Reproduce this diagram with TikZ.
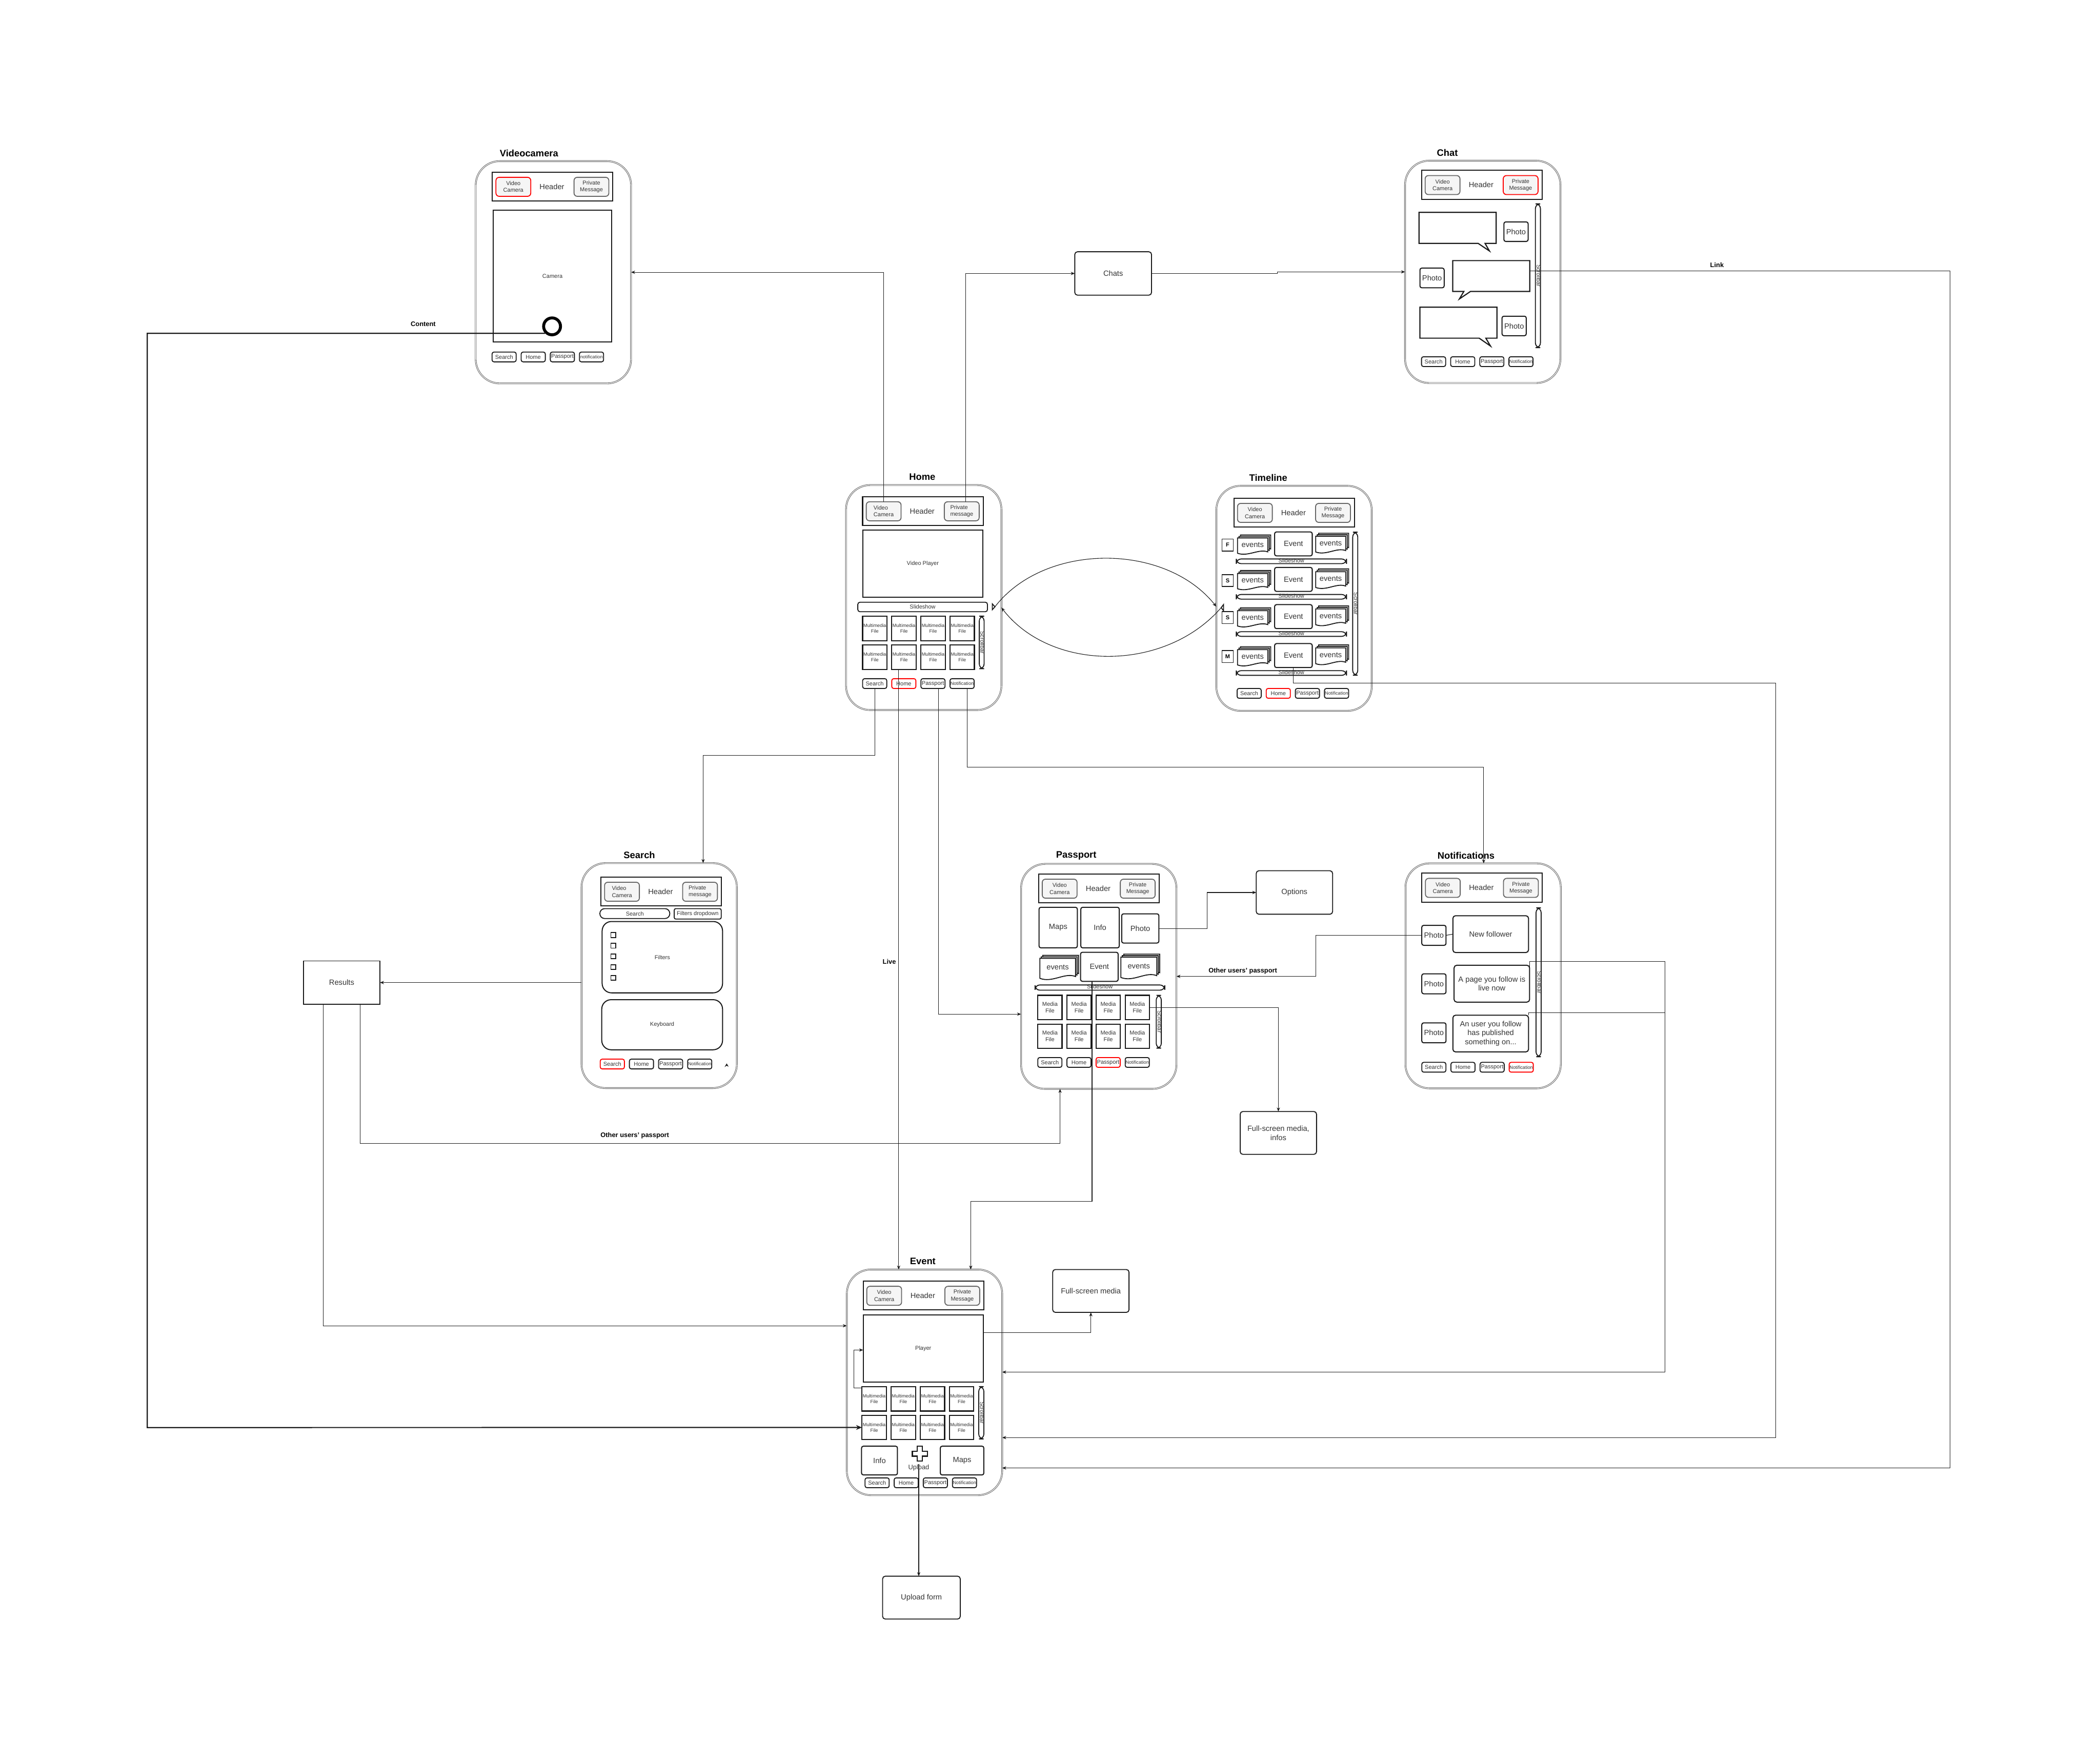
\documentclass[tikz,border=0pt]{standalone}
\usepackage{fontspec}
\setmainfont{Liberation Sans}
\usetikzlibrary{arrows.meta,calc}
\definecolor{cInk}{HTML}{1A1A1A}
\definecolor{cTxt}{HTML}{333333}
\definecolor{cBtn}{HTML}{F5F5F5}
\definecolor{cBtnLn}{HTML}{666666}
\definecolor{cFrame}{HTML}{555555}
\definecolor{cAct}{HTML}{FF0000}
\newcommand{\nfs}{\fontsize{2.5}{3}\selectfont}
\tikzset{
  phone/.style={draw=cFrame, double=white, double distance=0.35pt, line width=0.25pt, rounded corners=4.5mm, fill=white, minimum width=29mm, inner sep=0, outer sep=0},
  ttl/.style={font=\bfseries\fontsize{5}{6}\selectfont, text=black, inner sep=0},
  hdbox/.style={draw=cInk, line width=0.6pt, inner sep=0, outer sep=0},
  hdtxt/.style={text=cTxt, font=\fontsize{4}{4.8}\selectfont, inner sep=0},
  btn/.style={draw=cBtnLn, fill=cBtn, line width=0.5pt, rounded corners=0.6mm, inner sep=0, outer sep=0, text=cTxt, align=center, font=\fontsize{3}{3.6}\selectfont},
  btnred/.style={btn, draw=cAct},
  btnl/.style={btn, align=left},
  nav/.style={draw=#1, fill=white, line width=0.5pt, rounded corners=0.35mm, inner sep=0, outer sep=0, text=cTxt, font=\fontsize{3}{3.6}\selectfont},
}
\tikzset{
  scr/.style={draw=cInk, line width=0.55pt, fill=white, inner sep=0, outer sep=0, text=cTxt, font=\fontsize{3}{3.6}\selectfont},
  cell/.style={draw=cInk, line width=0.6pt, fill=white, inner sep=0, outer sep=0, align=center, text=cTxt},
  cellmm/.style={cell, font=\fontsize{2.5}{3.1}\selectfont},
  cellmd/.style={cell, font=\fontsize{3}{3.6}\selectfont},
  tile/.style={draw=cInk, line width=0.55pt, fill=white, rounded corners=0.35mm, inner sep=0, outer sep=0, align=center, text=cTxt, font=\fontsize{4}{4.8}\selectfont},
  sbar/.style={draw=cInk, line width=0.5pt, fill=white, rounded corners=0.9mm, inner sep=0, outer sep=0},
  sbtxt/.style={rotate=-90, text=cTxt, inner sep=0, font=\fontsize{3}{3.6}\selectfont},
  pill/.style={draw=cInk, line width=0.5pt, fill=white, rounded corners=0.9mm, inner sep=0, outer sep=0, text=cTxt, font=\fontsize{3}{3.6}\selectfont},
  sstxt/.style={text=cTxt, inner sep=0, font=\fontsize{3}{3.6}\selectfont},
  docln/.style={draw=cInk, line width=0.5pt, fill=white},
  evt/.style={text=cTxt, inner sep=0, font=\fontsize{4}{4.8}\selectfont},
  daybox/.style={draw=cInk, line width=0.45pt, fill=white, inner sep=0, outer sep=0, font=\bfseries\fontsize{3}{3.6}\selectfont},
  chk/.style={draw=cInk, line width=0.5pt, minimum size=0.9mm, inner sep=0},
  bubl/.style={draw=cInk, line width=0.6pt, fill=white},
  ghost/.style={draw=none, inner sep=0, outer sep=0},
  shutter/.style={circle, draw=black, fill=white, line width=0.55mm, minimum size=3.15mm, inner sep=0},
  mk/.style={draw=cInk, line width=0.5pt, fill=white},
  plusln/.style={draw=cInk, line width=0.6pt, fill=white},
  upl/.style={text=cTxt, inner sep=0, font=\fontsize{3.5}{4.2}\selectfont},
}
\tikzset{
  boxr/.style={draw=cInk, line width=0.5pt, fill=white, rounded corners=0.5mm, inner sep=0, outer sep=0, align=center, text=cTxt, font=\fontsize{4}{4.8}\selectfont},
  boxs/.style={boxr, sharp corners},
  conn/.style={line width=0.3pt, draw=cInk},
  flow/.style={conn, -{Stealth[length=0.75mm, width=0.6mm]}},
  lbl/.style={font=\bfseries\fontsize{3.5}{4.2}\selectfont, inner sep=0.5pt},
}
% box from two corners, in picture units
\newcommand{\rbox}[7]{\node[#2, minimum width={((#5)-(#3))*0.25mm}, minimum height={((#6)-(#4))*0.25mm}] (#1) at ({((#3)+(#5))/2},{((#4)+(#6))/2}) {#7};}
\newcommand{\phone}[4]{%
  \node[phone, minimum height={(#2)*0.25mm}] (#1) at (58,{(#2)/2}) {};
  \node[ttl] (#1-t) at (#4,-6) {#3};}
\newcommand{\header}[7]{%
  \rbox{#1-hd}{hdbox}{#2}{#3}{#2+90}{#3+21.6}{}
  \rbox{#1-vc}{#6}{#2+2.7}{#3+3.9}{#2+28.7}{#3+18.1}{#4}
  \rbox{#1-pm}{#7}{#2+61}{#3+3.9}{#2+87}{#3+18.1}{#5}
  \node[hdtxt] (#1-ht) at (#2+44.5,#3+10.8) {Header};}
\newcommand{\navbar}[5]{%
  \foreach \lab [count=\i] in {Search,Home,Passport,#5}{%
    \ifnum\i=#4 \def\nc{cAct}\else\def\nc{cInk}\fi
    \rbox{#1-n\i}{nav=\nc}{#2+(\i-1)*21.75}{#3}{#2+(\i-1)*21.75+18}{#3+7.3}{\lab}}}
% prefix, x, y, dx, dy, size, style, text
\newcommand{\mgrid}[8]{%
  \foreach \gr in {0,1}{\foreach \gc in {0,1,2,3}{%
    \pgfmathtruncatemacro{\gk}{\gr*4+\gc+1}
    \rbox{#1-m\gk}{#7}{#2+\gc*#4}{#3+\gr*#5}{#2+\gc*#4+#6}{#3+\gr*#5+#6}{#8}}}}
\newcommand{\scroll}[5]{%
  \rbox{#1}{sbar}{#2}{#3}{#4}{#5}{}
  \node[sbtxt] (#1-t) at ({((#2)+(#4))/2+0.6},{((#3)+(#5))/2}) {Scrollbar};}
\newcommand{\docsh}[4]{%
  \pgfmathsetmacro{\dcw}{(#3)-(#1)}%
  \pgfmathsetmacro{\dch}{(#4)-(#2)}%
  \draw[docln] (#1,#2) -- (#3,#2) -- (#3,{#2+0.82*\dch}) .. controls ({#3-0.3*\dcw},{#2+0.62*\dch}) and ({#1+0.35*\dcw},{#2+1.12*\dch}) .. (#1,{#2+0.9*\dch}) -- cycle;}
\newcommand{\evstack}[5]{%
  \docsh{#2+2.2}{#3}{#4}{#5-2.2}
  \docsh{#2+1.1}{#3+1.1}{#4-1.1}{#5-1.1}
  \docsh{#2}{#3+2.2}{#4-2.2}{#5}
  \node[evt] (#1) at ({((#2)+(#4))/2-1.1},{(#3)+2.2+0.4*((#5)-(#3)-2.2)}) {events};}
\newcommand{\bubble}[9]{%
  \rbox{#1}{ghost}{#2}{#3}{#4}{#5}{}
  \draw[bubl] (#2,#3) -- (#4,#3) -- (#4,#5) -- (#6,#5) -- (#7,#8) -- (#9,#5) -- (#2,#5) -- cycle;}

\begin{document}
\begin{tikzpicture}[x=0.25mm, y=-0.25mm]
\useasboundingbox (0,0) rectangle (1568,1317);
\fill[white] (0,0) rectangle (1568,1317);

% Videocamera
\begin{scope}[shift={(355.2,120.3)}]
  \phone{vc}{166}{Videocamera}{39.8}
  \header{vc}{12.4}{8.2}{Video\\Camera}{Private\\Message}{btnred}{btn}
  \rbox{vc-cam}{scr}{13}{36.6}{101.6}{134.9}{Camera}
  \node[shutter] (vc-sh) at (57,123.4) {};
  \navbar{vc}{12.2}{142.6}{0}{{\nfs notification}}
\end{scope}

% Chat
\begin{scope}[shift={(1049.1,120)}]
  \phone{ch}{166}{Chat}{31.6}
  \header{ch}{12.3}{7.2}{Video\\Camera}{Private\\Message}{btn}{btnred}
  \scroll{ch-sb}{97.3}{32.2}{101.1}{139.6}
  \bubble{ch-b1}{10.4}{38.6}{68}{61.7}{59.7}{63}{67.4}{54.5}
  \bubble{ch-b2}{35.6}{74.6}{93.1}{97.6}{48.9}{40.6}{103.2}{43.9}
  \bubble{ch-b3}{11.1}{109.4}{68.6}{132.5}{60.3}{63.8}{138.4}{55.3}
  \rbox{ch-p1}{tile}{73.8}{45.7}{91.9}{60.3}{Photo}
  \rbox{ch-p2}{tile}{11.1}{80.2}{29.2}{94.9}{Photo}
  \rbox{ch-p3}{tile}{72.4}{116.1}{90.5}{130.7}{Photo}
  \navbar{ch}{12.3}{146.4}{0}{{\nfs Notification}}
\end{scope}

% Home
\begin{scope}[shift={(631.7,362.2)}]
  \phone{hm}{168}{Home}{56.9}
  \header{hm}{12.4}{8.6}{Video\\Camera}{Private\\message}{btnl}{btnl}
  \rbox{hm-vp}{scr}{12.4}{33.8}{102.2}{83.9}{Video Player}
  \rbox{hm-ss}{pill, rounded corners=0.4mm}{8.8}{87.5}{105.6}{94.6}{Slideshow}
  \mgrid{hm}{12.4}{98}{21.75}{21.4}{18.2}{cellmm}{Multimedia\\File}
  \scroll{hm-sb}{99.5}{97.9}{103.1}{137.2}
  \navbar{hm}{12.4}{144.6}{2}{{\nfs Notification}}
  \draw[mk] (109.2,88.7) -- (111.2,90.9) -- (109.2,93.1) -- cycle;
  \coordinate (hm-mk) at (111.2,90.9);
\end{scope}

% Timeline
\begin{scope}[shift={(908.2,362.8)}]
  \phone{tl}{168}{Timeline}{38.8}
  \header{tl}{13.1}{9.2}{Video\\Camera}{Private\\Message}{btn}{btn}
  \foreach \ty/\dl [count=\i] in {34.4/F, 60.9/S, 88.7/S, 117.8/M}{
    \rbox{tl-d\i}{daybox}{4.2}{\ty+5.3}{12.7}{\ty+14.2}{\dl}
    \evstack{tl-l\i}{15.8}{\ty+2.3}{40.6}{\ty+17.2}
    \rbox{tl-e\i}{tile}{43.5}{\ty}{71.6}{\ty+17.9}{Event}
    \evstack{tl-r\i}{74.2}{\ty+1}{98.8}{\ty+16.3}
    \rbox{tl-s\i}{pill}{14.9}{\ty+20.2}{97.2}{\ty+23.7}{}
    \node[sstxt] (tl-st\i) at (56,\ty+21.3) {Slideshow};
  }
  \scroll{tl-sb}{101.8}{34.6}{105.6}{141.4}
  \navbar{tl}{15.5}{151.3}{2}{{\nfs Notification}}
  \draw[mk] (5.4,88.6) -- (3.6,90.95) -- (5.4,93.3) -- cycle;
  \coordinate (tl-mk) at (3.6,90.95);
\end{scope}

% Search
\begin{scope}[shift={(434.2,644.5)}]
  \phone{sr}{168}{Search}{43.2}
  \header{sr}{14.5}{10.4}{Video\\Camera}{Private\\message}{btnl}{btnl}
  \rbox{sr-bar}{pill}{13.7}{34}{65.9}{41.4}{Search}
  \rbox{sr-dd}{pill, rounded corners=0.3mm}{69.2}{34}{104.3}{41.8}{Filters dropdown}
  \rbox{sr-fl}{scr, rounded corners=1.75mm}{15.4}{43.6}{105.3}{96.9}{Filters}
  \foreach \i in {1,...,5} \node[chk] (sr-c\i) at (23.7,{53.7+8*(\i-1)}) {};
  \rbox{sr-kb}{scr, rounded corners=1.75mm}{15.1}{102}{105.3}{139.4}{Keyboard}
  \navbar{sr}{14}{146.4}{1}{{\nfs Notification}}
  \fill[cInk] (106.8,152.3) -- (108.4,149.6) -- (109.8,152) -- (108.3,151.3) -- cycle;
\end{scope}

% Passport
\begin{scope}[shift={(762.4,645.1)}]
  \phone{pp}{168}{Passport}{41.2}
  \header{pp}{13.1}{7.5}{Video\\Camera}{Private\\Message}{btn}{btn}
  \rbox{pp-mp}{tile}{13.4}{32.4}{42}{62.7}{Maps}
  \rbox{pp-in}{tile}{44.6}{32.4}{73.3}{62.7}{Info}
  \rbox{pp-ph}{tile}{75.1}{37.3}{102.9}{59.1}{Photo}
  \evstack{pp-l}{14}{68.3}{42.9}{87.1}
  \rbox{pp-ev}{tile}{44.4}{66}{72.5}{87.7}{Event}
  \evstack{pp-r}{74.5}{67.4}{103.5}{86.5}
  \rbox{pp-ss}{pill}{10.4}{90.4}{107.3}{94.3}{}
  \node[sstxt] (pp-st) at (58.8,91.6) {Slideshow};
  \mgrid{pp}{12.5}{98.1}{21.75}{21.5}{18.1}{cellmd}{Media\\File}
  \scroll{pp-sb}{100.9}{98.1}{104.7}{137.6}
  \navbar{pp}{12.5}{144.6}{3}{{\nfs Notification}}
\end{scope}

% Notifications
\begin{scope}[shift={(1049.4,644.7)}]
  \phone{nt}{168}{Notifications}{45.2}
  \header{nt}{12.2}{7.3}{Video\\Camera}{Private\\Message}{btn}{btn}
  \scroll{nt-sb}{97.5}{33.2}{101.3}{144.4}
  \rbox{nt-p1}{tile}{12.2}{46.3}{30.3}{61.2}{Photo}
  \rbox{nt-b1}{tile, rounded corners=0.5mm}{35.4}{39.1}{91.9}{66.6}{New follower}
  \rbox{nt-p2}{tile}{12.2}{82.5}{30.3}{97.4}{Photo}
  \rbox{nt-b2}{tile, rounded corners=0.5mm}{36.3}{76.1}{92.7}{103.6}{A page you follow is\\live now}
  \rbox{nt-p3}{tile}{12.2}{119.1}{30.3}{134}{Photo}
  \rbox{nt-b3}{tile, rounded corners=0.5mm}{35.4}{113.4}{91.9}{140.8}{An user you follow\\has published\\something on...}
  \navbar{nt}{12.2}{148.6}{4}{{\nfs Notification}}
\end{scope}

% Event
\begin{scope}[shift={(632.3,948)}]
  \phone{ev}{168.5}{Event}{56.7}
  \header{ev}{12.2}{8.6}{Video\\Camera}{Private\\Message}{btn}{btn}
  \rbox{ev-pl}{scr}{12.2}{33.9}{101.9}{84.1}{Player}
  \mgrid{ev}{11.3}{87.4}{21.75}{21.4}{18.25}{cellmm}{Multimedia\\File}
  \scroll{ev-sb}{98.5}{87.4}{102.3}{126.5}
  \rbox{ev-in}{tile}{11}{131.9}{37.8}{153.4}{Info}
  \rbox{ev-mp}{tile}{69.8}{131.9}{102.3}{153.4}{Maps}
  \draw[plusln] (52.6,131.9) -- (56.4,131.9) -- (56.4,135.6) -- (60.1,135.6) -- (60.1,139.4) -- (56.4,139.4) -- (56.4,143.1) -- (52.6,143.1) -- (52.6,139.4) -- (48.9,139.4) -- (48.9,135.6) -- (52.6,135.6) -- cycle;
  \node[upl] (ev-up) at (53.7,148) {Upload};
  \navbar{ev}{13.6}{155.6}{0}{{\nfs Notification}}
\end{scope}

% side boxes
\rbox{chats}{boxr}{802.5}{188}{859.8}{220.4}{Chats}
\rbox{opts}{boxr}{938}{650.2}{995}{682.7}{Options}
\rbox{res}{boxs}{226.5}{717.6}{283.7}{749.8}{Results}
\rbox{fsi}{boxr}{926}{830}{983}{862}{Full-screen media,\\infos}
\rbox{fsm}{boxr}{786}{948}{843}{980}{Full-screen media}
\rbox{upf}{boxr}{659}{1177}{717}{1209}{Upload form}

% connectors
\draw[flow] (hm-vc.north) |- (vc.east);
\draw[flow] ($(hm-pm.north)+(3,0)$) |- (chats.west);
\draw[flow] (chats.east) -- (953.7,0 |- chats.east) |- (ch.west);
\draw[flow] (ch-b2.east |- 0,202.3) -| (1456,1096.2) -- (ev.east |- 0,1096.2);
\node[lbl] (lb-link) at (1282,198) {Link};
\draw[flow] (hm-n1.south) |- (525,564) -- (525,0 |- sr.north);
\draw[flow] (671,0 |- hm-m6.south) -- (671,0 |- ev.north);
\node[lbl] (lb-live) at (664,718) {Live};
\draw[flow] (700.8,0 |- hm-n3.south) |- (pp.west |- 0,757.3);
\draw[flow] (722.3,0 |- hm-n4.south) -- (722.3,573) -| (1107.8,0 |- nt.north);
\draw[flow] (hm-mk) .. controls (780,405) and (870,405) .. (tl.west |- 0,453);
\draw[flow] (tl-mk) .. controls (870,502) and (785,502) .. (hm.east |- 0,453.7);
\draw[flow] (pp-ph.east) -- (901.3,0 |- pp-ph.east) |- (opts.west);
\draw[flow] (nt-p1.west) -- (982.4,0 |- nt-p1.west) |- (pp.east);
\draw[conn] (nt-p1.east) -- (nt-b1.west);
\node[lbl] (lb-oup1) at (928,725) {Other users' passport};
\draw[flow] (nt-b2.east) -- ++(0,-16.5) -| (1243,1024.6) -- (ev.east |- 0,1024.6);
\draw[conn] (nt-b3.north east) -- ++(0,-2) -| (1243,740);
\draw[flow] (tl-e4.south) |- (1326,510) |- (ev.east |- 0,1073.5);
\draw[flow] (815.4,0 |- pp-ev.south) -- (815.4,897) -| (724.8,0 |- ev.north);
\draw[flow] (pp-m4.east) -| (fsi.north);
\draw[flow] (241.4,0 |- res.south) |- (ev.west |- 0,990);
\draw[flow] (268.9,0 |- res.south) -- (268.9,854) -| (791.5,0 |- pp.south);
\node[lbl] (lb-oup2) at (474,848) {Other users' passport};
\draw[flow] (sr.west |- res.east) -- (res.east);
\draw[conn, line width=0.6pt, -{Stealth[length=1.1mm, width=0.9mm]}] (vc-sh.south west) -| (110,1066) -- (ev-m5.west);
\node[lbl] (lb-cont) at (316,242) {Content};
\draw[flow] (ev-pl.east |- 0,995) -| (fsm.south);
\draw[flow] (ev-m1.west |- 0,1036.5) -- (637.6,1036.5) |- (ev-pl.west |- 0,1008.1);
\draw[flow] (ev-up.north) -- (ev-up.north |- upf.north);
\end{tikzpicture}
\end{document}
